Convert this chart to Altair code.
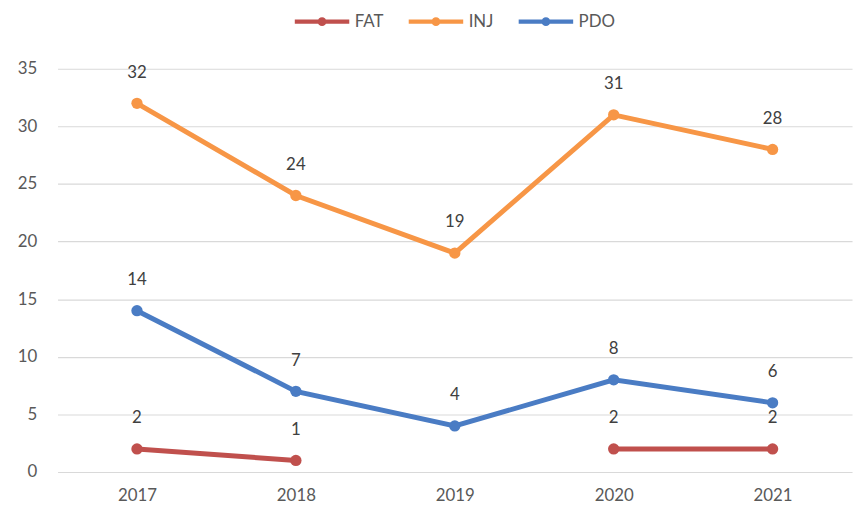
import altair as alt
import pandas as pd

years = ["2017", "2018", "2019", "2020", "2021"]
series_names = ["FAT", "INJ", "PDO"]
fat = [2, 1, None, 2, 2]
inj = [32, 24, 19, 31, 28]
pdo = [14, 7, 4, 8, 6]
colors = ["#C0504D", "#F79646", "#4A7CC4"]

rows = []
for name, vals in zip(series_names, [fat, inj, pdo]):
    seg = 0
    for y, v in zip(years, vals):
        if v is None:
            seg += 1
            continue
        rows.append({"year": y, "series": name, "value": v, "seg": f"{name}{seg}"})
df = pd.DataFrame(rows)

FONT = "Lato"
legend_path = ("M-1,0 L1,0 M-0.08,0 A0.08,0.08 0 1,0 0.08,0 "
               "A0.08,0.08 0 1,0 -0.08,0")

x = alt.X("year:N", sort=years, title=None,
          scale=alt.Scale(paddingInner=0, paddingOuter=0),
          axis=alt.Axis(labelAngle=0, ticks=False, domain=False, grid=False,
                        gridOpacity=0, gridWidth=0,
                        labelPadding=16, labelFontSize=17, labelColor="#595959",
                        labelFont=FONT))
y = alt.Y("value:Q", title=None,
          scale=alt.Scale(domain=[0, 35]),
          axis=alt.Axis(values=[0, 5, 10, 15, 20, 25, 30, 35], ticks=False,
                        domain=False, gridColor="#D9D9D9", gridWidth=1.2,
                        labelPadding=21, labelFontSize=17, labelColor="#595959",
                        labelFont=FONT))
color = alt.Color("series:N", sort=series_names,
                  scale=alt.Scale(domain=series_names, range=colors),
                  legend=alt.Legend(title=None, orient="none", direction="horizontal",
                                    legendX=237, legendY=-78,
                                    symbolType=legend_path, symbolSize=3025,
                                    symbolStrokeWidth=4.5, labelFontSize=17,
                                    labelColor="#595959", labelFont=FONT,
                                    columnPadding=16, labelOffset=3))

base = alt.Chart(df)
lines = base.mark_line(strokeWidth=5).encode(x=x, y=y, color=color, detail="seg:N")
points = base.mark_circle(size=130, opacity=1).encode(
    x=x, y=y,
    color=alt.Color("series:N", sort=series_names,
                    scale=alt.Scale(domain=series_names, range=colors), legend=None))
labels = base.mark_text(dy=-31, fontSize=17, color="#404040", font=FONT).encode(
    x=x, y=y, text="value:Q")

chart = alt.layer(lines, points, labels).properties(
    width=802, height=407,
    autosize=alt.AutoSizeParams(type="none"),
    padding={"left": 50, "top": 59, "right": 4, "bottom": 34},
    background="white",
).configure_view(stroke=None).configure_axisX(grid=False, gridOpacity=0)

chart.save("out.html", embed_options={"renderer": "svg", "actions": False})
